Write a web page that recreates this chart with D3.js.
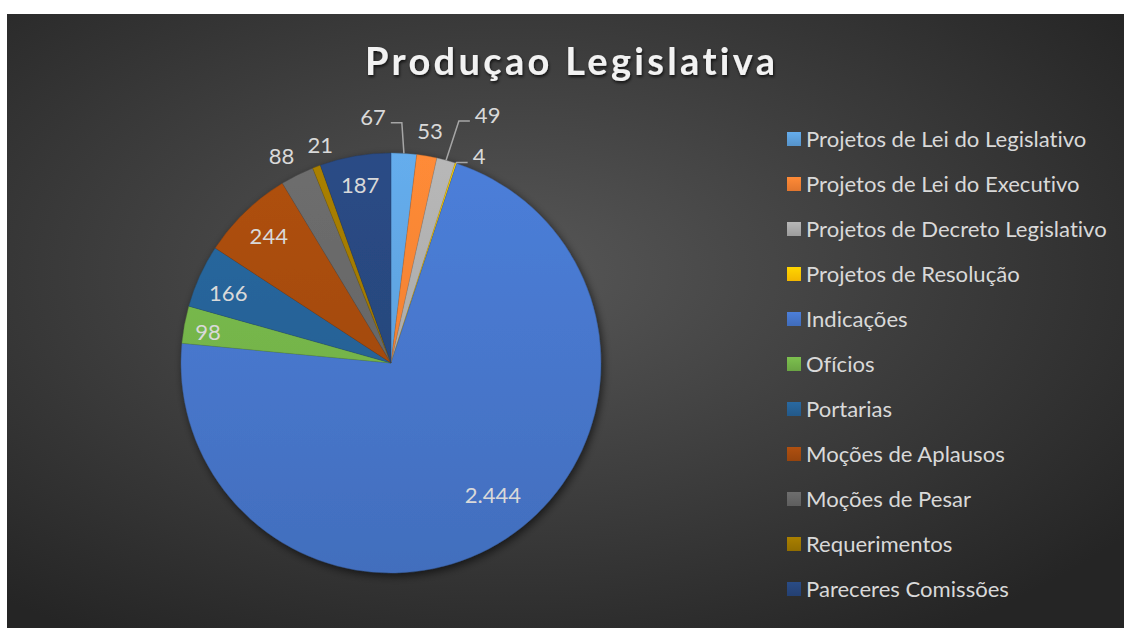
<!DOCTYPE html>
<html>
<head>
<meta charset="utf-8">
<script src="https://cdn.jsdelivr.net/npm/d3@7/dist/d3.min.js"></script>
<style>
  body { margin: 0; background: #fff; }
  svg { display: block; font-variant-ligatures: none; font-feature-settings: "liga" 0, "dlig" 0; }
</style>
</head>
<body>
<div id="chart"></div>
<script>
// chart data
var categories = [
  "Projetos de Lei do Legislativo",
  "Projetos de Lei do Executivo",
  "Projetos de Decreto Legislativo",
  "Projetos de Resolução",
  "Indicações",
  "Ofícios",
  "Portarias",
  "Moções de Aplausos",
  "Moções de Pesar",
  "Requerimentos",
  "Pareceres Comissões"
];
var values = [67, 53, 49, 4, 2444, 98, 166, 244, 88, 21, 187];
var valueLabels = ["67", "53", "49", "4", "2.444", "98", "166", "244", "88", "21", "187"];

var colors = ["#5B9BD5", "#ED7D31", "#A5A5A5", "#FFC000", "#4472C4", "#70AD47",
              "#255E91", "#9E480E", "#636363", "#997300", "#264478"];

// where each data label sits: radius factor + angle nudge (degrees)
var labelLayout = [
  {r: 1.176, da: -7.7, leader: true},
  {r: 1.12,  da: -0.3},
  {r: 1.267, da: 6.1, leader: true},
  {r: 1.069, da: 5.1, leader: true},
  {r: 0.794, da: -4.5},
  {r: 0.884, da: -1},
  {r: 0.843, da: -1.3},
  {r: 0.838, da: 0},
  {r: 1.117, da: -1.3},
  {r: 1.09,  da: 2.8},
  {r: 0.859, da: 0}
];

var svgWidth = 1124, svgHeight = 628;
var cx = 391, cy = 363, radius = 210;
var textColor = "#d9d9d9";
var font = "Lato, 'Open Sans', sans-serif";

var svg = d3.select("#chart").append("svg")
  .attr("width", svgWidth)
  .attr("height", svgHeight);

var defs = svg.append("defs");

var bg = defs.append("radialGradient").attr("id", "bg")
  .attr("cx", "45%").attr("cy", "42%").attr("r", "70%");
bg.append("stop").attr("offset", "0%").attr("stop-color", "#575757");
bg.append("stop").attr("offset", "100%").attr("stop-color", "#252525");

var shadow = defs.append("filter").attr("id", "pieShadow")
  .attr("x", "-20%").attr("y", "-20%").attr("width", "140%").attr("height", "140%");
shadow.append("feDropShadow").attr("dx", 2).attr("dy", 3)
  .attr("stdDeviation", 4).attr("flood-color", "#000").attr("flood-opacity", 0.6);

var titleShadow = defs.append("filter").attr("id", "titleShadow")
  .attr("x", "-10%").attr("y", "-30%").attr("width", "120%").attr("height", "160%");
titleShadow.append("feDropShadow").attr("dx", 1).attr("dy", 2)
  .attr("stdDeviation", 1.5).attr("flood-color", "#000").attr("flood-opacity", 0.7);

// a vertical gradient per colour, lighter at the top (pie coordinates)
colors.forEach(function(c, i) {
  var g = defs.append("linearGradient").attr("id", "slice" + i)
    .attr("gradientUnits", "userSpaceOnUse")
    .attr("x1", 0).attr("y1", -radius).attr("x2", 0).attr("y2", radius);
  g.append("stop").attr("offset", "0%").attr("stop-color", d3.color(c).brighter(0.3));
  g.append("stop").attr("offset", "100%").attr("stop-color", d3.color(c).darker(0.1));
  var s = defs.append("linearGradient").attr("id", "swatch" + i)
    .attr("x1", 0).attr("y1", 0).attr("x2", 0).attr("y2", 1);
  s.append("stop").attr("offset", "0%").attr("stop-color", d3.color(c).brighter(0.3));
  s.append("stop").attr("offset", "100%").attr("stop-color", d3.color(c).darker(0.15));
});

svg.append("rect")
  .attr("x", 7).attr("y", 14)
  .attr("width", svgWidth - 7).attr("height", svgHeight - 14)
  .attr("fill", "url(#bg)");

// title
svg.append("text")
  .attr("x", 570).attr("y", 75)
  .attr("text-anchor", "middle")
  .attr("font-family", font)
  .attr("font-weight", "bold")
  .attr("font-size", 38)
  .attr("fill", "#f2f2f2")
  .attr("textLength", 410)
  .attr("lengthAdjust", "spacing")
  .attr("filter", "url(#titleShadow)")
  .text("Produçao Legislativa");

// legend font size fitted to the reference width of the longest entry
var probe = svg.append("text").attr("font-family", font).attr("font-size", 24);
var maxW = 0;
categories.forEach(function(c) {
  probe.text(c);
  maxW = Math.max(maxW, probe.node().getComputedTextLength());
});
probe.remove();
var fontSize = Math.min(24, 24 * 301 / maxW);

// pie
var pie = d3.pie().sort(null).value(function(d) { return d; });
var arcs = pie(values);
var arc = d3.arc().innerRadius(0).outerRadius(radius);

var pieGroup = svg.append("g")
  .attr("transform", "translate(" + cx + "," + cy + ")");

pieGroup.append("g")
  .attr("filter", "url(#pieShadow)")
  .selectAll("path")
  .data(arcs)
  .enter()
  .append("path")
  .attr("d", arc)
  .attr("fill", function(d, i) { return "url(#slice" + i + ")"; })
  .attr("stroke", function(d, i) { return d3.color(colors[i]).darker(0.8); })
  .attr("stroke-width", 0.5)
  .attr("stroke-opacity", 0.6);

function polar(r, a) {
  return [r * Math.sin(a), -r * Math.cos(a)];
}

var labelGroup = pieGroup.append("g");
arcs.forEach(function(d, i) {
  var lay = labelLayout[i];
  var mid = (d.startAngle + d.endAngle) / 2;
  var p = polar(lay.r * radius, mid + lay.da * Math.PI / 180);
  var t = labelGroup.append("text")
    .attr("x", p[0])
    .attr("y", p[1] + fontSize * 0.36)
    .attr("text-anchor", "middle")
    .attr("font-family", font)
    .attr("font-size", fontSize)
    .attr("fill", textColor)
    .text(valueLabels[i]);

  if (lay.leader) {
    var w = t.node().getComputedTextLength();
    var edge = polar(radius, mid);
    var dir = edge[0] > p[0] ? 1 : -1;
    var x0 = p[0] + dir * (w / 2 + 5);
    var y0 = p[1] + 6;
    var x1 = x0 + dir * 11;
    labelGroup.append("polyline")
      .attr("points", [[x0, y0], [x1, y0], edge].map(function(q) { return q.join(","); }).join(" "))
      .attr("fill", "none")
      .attr("stroke", "#a6a6a6")
      .attr("stroke-width", 1.5);
  }
});

// legend
var legend = svg.append("g").attr("transform", "translate(787,139)");
var rows = legend.selectAll("g")
  .data(categories)
  .enter()
  .append("g")
  .attr("transform", function(d, i) { return "translate(0," + (i * 45) + ")"; });

rows.append("rect")
  .attr("x", 0).attr("y", -7)
  .attr("width", 14).attr("height", 14)
  .attr("fill", function(d, i) { return "url(#swatch" + i + ")"; });

rows.append("text")
  .attr("x", 19)
  .attr("y", fontSize * 0.36)
  .attr("font-family", font)
  .attr("font-size", fontSize)
  .attr("fill", textColor)
  .text(function(d) { return d; });
</script>
</body>
</html>
